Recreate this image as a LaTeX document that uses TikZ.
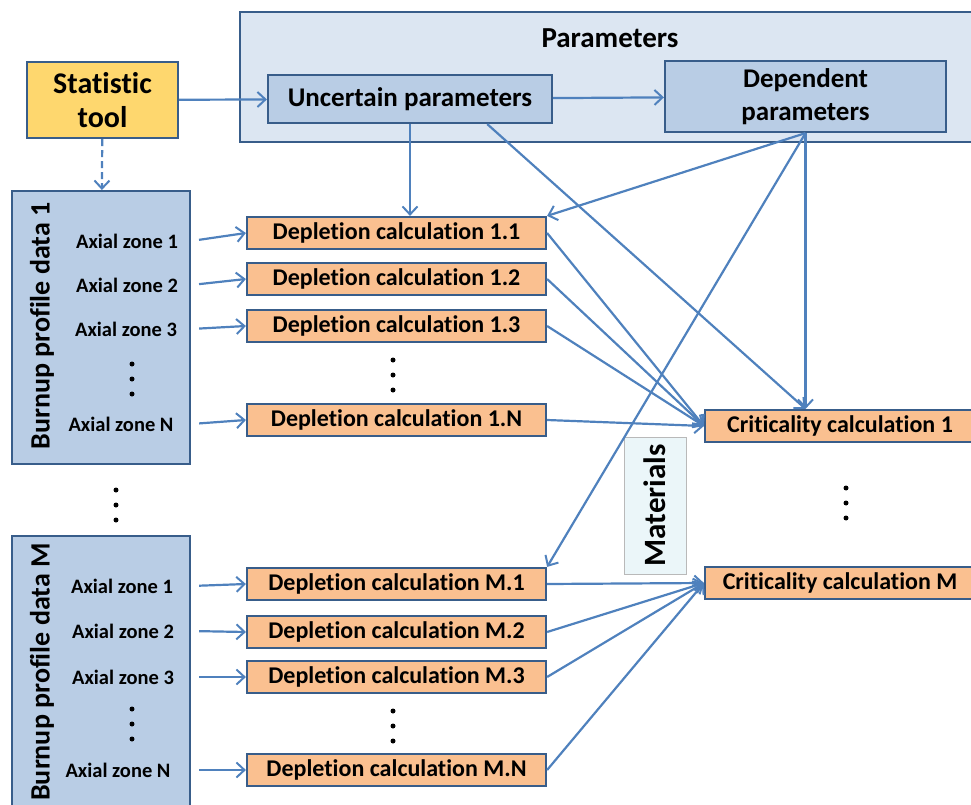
\documentclass[tikz,border=0pt]{standalone}
\usepackage{fontspec}
\setmainfont{Carlito}[Ligatures={NoCommon}]
\usepackage{tikz}
\usetikzlibrary{positioning,arrows.meta}
\definecolor{linkblue}{RGB}{79,129,189}
\definecolor{edgeblue}{RGB}{56,93,138}
\definecolor{boxblue}{RGB}{185,205,229}
\definecolor{paleblue}{RGB}{220,230,242}
\definecolor{calcorange}{RGB}{250,192,144}
\definecolor{toolyellow}{RGB}{254,215,110}
\definecolor{matcyan}{RGB}{235,246,249}
\newcommand{\threedots}[2]{\foreach \k in {-15,0,15} \fill (#1,#2+\k) circle (2.5);}

\begin{document}
\begin{tikzpicture}[x=1pt,y=-1pt,
    box/.style={draw=edgeblue, line width=2.2pt, inner sep=0pt},
    depl/.style={box, fill=calcorange, minimum width=299pt, minimum height=32pt, font=\fontsize{24}{26}\selectfont\bfseries},
    crit/.style={box, fill=calcorange, minimum width=270pt, minimum height=32pt, font=\fontsize{24}{26}\selectfont\bfseries},
    zone/.style={font=\fontsize{20.5}{22}\selectfont\bfseries},
    profile/.style={box, fill=boxblue, minimum width=178pt, anchor=north},
    ptitle/.style={rotate=90, font=\fontsize{28}{30}\selectfont\bfseries},
    link/.style={draw=linkblue, line width=2.2pt, -{Straight Barb[length=8pt,width=15pt,line width=2pt]}}]
    \useasboundingbox (0,0) rectangle (971,805);

    % Parameters
    \node[box, fill=paleblue, minimum width=735pt, minimum height=130pt] (param) at (607.5,77) {};
    \node[font=\fontsize{29}{32}\selectfont\bfseries] (paramtitle) at (610,38) {Parameters};
    \node[box, fill=boxblue, minimum width=284pt, minimum height=48pt, font=\fontsize{27}{30}\selectfont\bfseries] (unc) at (410,99) {Uncertain parameters};
    \node[box, fill=boxblue, minimum width=281pt, minimum height=71pt, align=center, font=\fontsize{27}{33}\selectfont\bfseries] (dep) at (805.5,96.5) {Dependent\\parameters};

    % Statistic tool
    \node[box, fill=toolyellow, minimum width=151pt, minimum height=76pt, align=center, font=\fontsize{30}{34}\selectfont\bfseries] (stat) at (102.5,100) {Statistic\\tool};

    % Burnup profile data 1
    \node[profile, minimum height=273pt] (bp1) at (101,190) {};
    \node[ptitle] (bp1title) at (42,326) {Burnup profile data 1};
    \node[zone] (az11) at (127,241) {Axial zone 1};
    \node[zone] (az12) at (127,285) {Axial zone 2};
    \node[zone] (az13) at (126,329) {Axial zone 3};
    \node[zone] (az1n) at (121,424) {Axial zone N};
    \threedots{132}{379}

    % Burnup profile data M
    \threedots{116}{505}
    \node[profile, minimum height=280pt] (bpm) at (101,535) {};
    \node[ptitle] (bpmtitle) at (42,672) {Burnup profile data M};
    \node[zone] (azm1) at (122,586) {Axial zone 1};
    \node[zone] (azm2) at (123,631) {Axial zone 2};
    \node[zone] (azm3) at (123,677) {Axial zone 3};
    \node[zone] (azmn) at (118,770) {Axial zone N};
    \threedots{132}{724}

    % Depletion calculations
    \node[depl] (dep11) at (396.5,233) {Depletion calculation 1.1};
    \node[depl] (dep12) at (396.5,279) {Depletion calculation 1.2};
    \node[depl] (dep13) at (396.5,326) {Depletion calculation 1.3};
    \node[depl] (dep1n) at (396.5,420) {Depletion calculation 1.N};
    \threedots{393}{375}
    \node[depl] (depm1) at (396.5,584) {Depletion calculation M.1};
    \node[depl] (depm2) at (396.5,632) {Depletion calculation M.2};
    \node[depl] (depm3) at (396.5,677) {Depletion calculation M.3};
    \node[depl] (depmn) at (396.5,770) {Depletion calculation M.N};
    \threedots{393}{726}

    % Criticality calculations
    \node[crit] (crit1) at (840,426) {Criticality calculation 1};
    \node[crit] (critm) at (840,583) {Criticality calculation M};
    \threedots{846}{503}

    % Materials
    \node[draw=gray!55, line width=1pt, fill=matcyan, rotate=90, minimum width=137pt, minimum height=62pt, inner sep=0pt, font=\fontsize{31}{34}\selectfont\bfseries] (mat) at (655,505.5) {Materials};

    % Connectors
    \draw[link] (stat) -- (unc);
    \draw[link] (unc) -- (dep);
    \draw[link, dash pattern=on 7pt off 4pt] (stat) -- (bp1);
    \draw[link] (unc.south) -- (unc.south |- dep11.north);
    \draw[link] (unc.-18) -- (dep.south |- crit1.north);
    \draw[link] (dep.south) -- (dep.south |- crit1.north);
    \draw[link] (dep.south) -- (dep11.north east);
    \draw[link] (dep.south) -- (depm1.north east);
    \foreach \z/\d in {az11/dep11, az12/dep12, az13/dep13, az1n/dep1n, azm1/depm1, azm2/depm2, azm3/depm3, azmn/depmn}
        \draw[link, shorten <=8pt] (bp1.east |- \z) -- (\d.west);
    \foreach \d in {dep11, dep12, dep13, dep1n}
        \draw[link] (\d.east) -- (crit1.west);
    \foreach \d in {depm1, depm2, depm3, depmn}
        \draw[link] (\d.east) -- (critm.west);
\end{tikzpicture}
\end{document}
